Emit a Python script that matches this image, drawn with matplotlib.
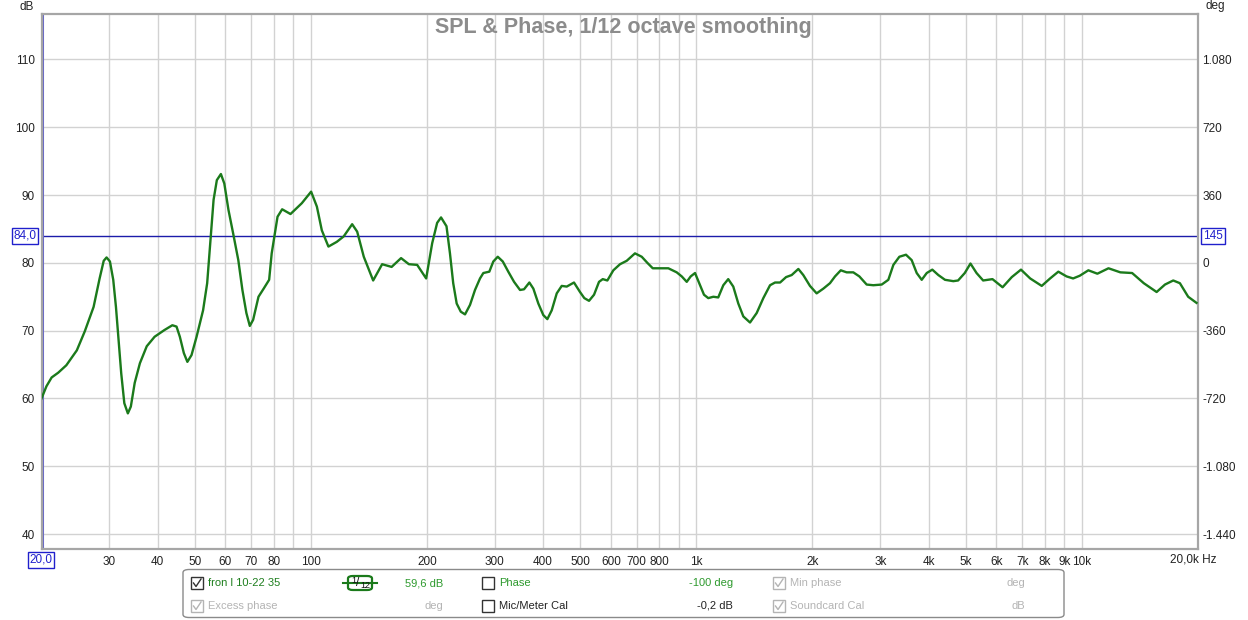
import matplotlib
matplotlib.use("Agg")
import matplotlib.pyplot as plt
from matplotlib.patches import Rectangle, FancyBboxPatch
from matplotlib.lines import Line2D
from matplotlib.ticker import FixedLocator, FuncFormatter, NullLocator

plt.rcParams['font.family'] = ['Liberation Sans', 'DejaVu Sans']

# SPL curve (Hz, dB)
freq = [20.0, 20.6, 21.25, 22.1, 23.2, 24.7, 25.9, 27.3, 28.3, 29.0, 29.5, 30.1, 30.7, 31.2,
        31.7, 32.2, 32.8, 33.5, 34.1, 34.9, 36.0, 37.5, 39.3, 41.7, 43.7, 44.8, 45.7, 46.8,
        47.8, 49.0, 50.5, 52.5, 53.8, 54.9, 55.9, 57.0, 58.4, 59.6, 61.1, 62.8, 64.8, 66.4,
        68.0, 69.4, 70.8, 73.1, 75.4, 77.9, 79.1, 81.9, 84.2, 88.5, 94.7, 100.1, 103.6,
        106.7, 111, 116.7, 121.6, 127.9, 131.8, 137.1, 145, 153, 161.9, 171.3, 179.5, 188.6,
        199, 206.3, 212.5, 217.5, 224.7, 229.4, 233.9, 238.8, 244.7, 251.0, 258.6, 266.4,
        274.5, 280.0, 290.2, 297.2, 305.2, 314.5, 325.0, 336.4, 348.6, 357.0, 368.6, 377.5,
        388.9, 400.6, 410.4, 421.3, 434.1, 447.2, 460.8, 481.2, 498.8, 511.8, 526.4, 542.4,
        558.8, 571.4, 587.3, 608.7, 633.5, 659.2, 692.7, 721.2, 745.8, 770.3, 804.4, 845.4,
        888.8, 915.9, 943.6, 966.2, 991.5, 1017, 1046, 1073, 1106, 1139, 1174, 1209, 1246,
        1284, 1323, 1377, 1433, 1491, 1552, 1599, 1648, 1708, 1766, 1838, 1893, 1970, 2050,
        2134, 2220, 2288, 2368, 2453, 2552, 2646, 2764, 2876, 3024, 3146, 3242, 3360, 3496,
        3617, 3727, 3840, 3957, 4091, 4241, 4413, 4638, 4772, 4966, 5138, 5328, 5542, 5860,
        6225, 6576, 6948, 7340, 7864, 8268, 8684, 9123, 9486, 9870, 10390, 10965, 11718,
        12578, 13495, 14467, 15620, 16420, 17250, 17950, 18860, 19820]
spl = [60.0, 61.8, 63.1, 63.8, 64.9, 67.1, 69.9, 73.5, 77.7, 80.3, 80.8, 80.2, 77.5, 73.5,
       68.6, 63.7, 59.3, 57.8, 58.8, 62.3, 65.2, 67.7, 69.1, 70.1, 70.8, 70.6, 69.1, 66.7,
       65.4, 66.4, 69.1, 73.0, 77.0, 83.6, 89.3, 92.2, 93.1, 91.7, 87.8, 84.4, 80.4, 76.0,
       72.6, 70.7, 71.6, 75.0, 76.2, 77.5, 81.4, 86.8, 87.9, 87.2, 88.8, 90.5, 88.3,
       84.8, 82.4, 83.1, 83.9, 85.7, 84.6, 80.9, 77.4, 79.8, 79.4, 80.7, 79.8, 79.7,
       77.7, 82.9, 85.9, 86.7, 85.4, 81.4, 77.0, 74.0, 72.8, 72.4, 73.8, 76.0,
       77.7, 78.5, 78.7, 80.2, 80.9, 80.2, 78.7, 77.2, 76.0, 76.1, 77.1, 76.2,
       74.0, 72.3, 71.7, 73.0, 75.5, 76.6, 76.5, 77.1, 75.7, 74.8, 74.4, 75.3,
       77.2, 77.6, 77.4, 78.9, 79.8, 80.3, 81.4, 80.9, 80.0, 79.2, 79.2, 79.2,
       78.6, 78.0, 77.2, 78.0, 78.5, 77.0, 75.3, 74.8, 75.0, 74.9, 76.7, 77.6, 76.5,
       74.0, 72.1, 71.2, 72.6, 74.8, 76.7, 77.1, 77.1, 77.9, 78.2, 79.1, 78.2, 76.6, 75.5,
       76.2, 77.0, 78.0, 78.9, 78.6, 78.6, 78.0, 76.8, 76.7, 76.8, 77.5, 79.7, 80.9, 81.2,
       80.4, 78.5, 77.5, 78.5, 79.0, 78.2, 77.5, 77.3, 77.4, 78.5, 79.9, 78.5, 77.4, 77.6,
       76.4, 77.9, 79.0, 77.7, 76.6, 77.7, 78.7, 78.0, 77.7, 78.1, 78.9, 78.4, 79.2,
       78.6, 78.5, 77.0, 75.7, 76.8, 77.4, 77.0, 75.0, 74.1]

x_ticks = [30, 40, 50, 60, 70, 80, 100, 200, 300, 400, 500, 600, 700, 800, 1000,
           2000, 3000, 4000, 5000, 6000, 7000, 8000, 9000, 10000]
x_labels = ["30", "40", "50", "60", "70", "80", "100", "200", "300", "400", "500", "600",
            "700", "800", "1k", "2k", "3k", "4k", "5k", "6k", "7k", "8k", "9k", "10k"]
x_grid = [20, 30, 40, 50, 60, 70, 80, 90, 100, 200, 300, 400, 500, 600, 700, 800, 900,
          1000, 2000, 3000, 4000, 5000, 6000, 7000, 8000, 9000, 10000, 20000]
db_ticks = [40, 50, 60, 70, 80, 90, 100, 110]
deg_ticks = [-1440, -1080, -720, -360, 0, 360, 720, 1080]

cursor_db = 84.0
cursor_hz = 20.0

W, H = 1248, 620
fig = plt.figure(figsize=(W / 100, H / 100), dpi=100)
ax = fig.add_axes([41.5 / W, 1 - 549 / H, (1198 - 41.5) / W, (549 - 14) / H])


def fx(x):
    return x / W


def fy(y):
    return 1 - y / H


ax.set_xscale("log")
ax.set_xlim(20, 20000)
ax.set_ylim(37.8, 116.7)

for g in x_grid:
    ax.axvline(g, color="#d2d2d2", lw=1.0, zorder=0)
for t in db_ticks:
    ax.axhline(t, color="#d2d2d2", lw=1.0, zorder=0)

ax.plot(freq, spl, color="#1b7a1b", lw=1.7, solid_joinstyle="round", zorder=3)

# cursors
ax.axhline(cursor_db, color="#1c1caa", lw=1.0, zorder=2)
ax.axvline(cursor_hz, color="#6464c8", lw=2.2, zorder=2)

ax.xaxis.set_major_locator(FixedLocator(x_ticks))
ax.xaxis.set_minor_locator(NullLocator())
ax.set_xticklabels(x_labels)
ax.yaxis.set_major_locator(FixedLocator(db_ticks))
ax.tick_params(axis="both", length=0, labelsize=8.5, colors="#222222")
ax.tick_params(axis="x", pad=5)
ax.tick_params(axis="y", pad=5)

for s in ax.spines.values():
    s.set_color("#a6a6a6")
    s.set_linewidth(1.6)

sec = ax.secondary_yaxis("right", functions=(lambda d: (d - 80) * 36, lambda p: p / 36 + 80))
sec.yaxis.set_major_locator(FixedLocator(deg_ticks))
sec.yaxis.set_major_formatter(FuncFormatter(lambda v, p: "{:,.0f}".format(v).replace(",", ".")))
sec.tick_params(length=0, labelsize=8.5, colors="#222222", pad=3)
sec.spines["right"].set_visible(False)

fig.text(fx(623), fy(27), "SPL & Phase, 1/12 octave smoothing", ha="center", va="center",
         fontsize=15.5, fontweight="bold", color="#8c8c8c")
fig.text(fx(27), fy(7), "dB", ha="center", va="center", fontsize=8.5, color="#222222")
fig.text(fx(1215), fy(6), "deg", ha="center", va="center", fontsize=8.5, color="#222222")
fig.text(fx(1193), fy(560), "20,0k Hz", ha="center", va="center", fontsize=8.5, color="#222222")

box = dict(boxstyle="square,pad=0.15", fc="white", ec="#2020cc", lw=1.0)
fig.text(fx(25), fy(236), "84,0", ha="center", va="center", fontsize=8.5, color="#2020cc", bbox=box)
fig.text(fx(1213), fy(236), "145", ha="center", va="center", fontsize=8.5, color="#2020cc", bbox=box)
fig.text(fx(41), fy(560), "20,0", ha="center", va="center", fontsize=8.5, color="#2020cc", bbox=box)

# legend panel
fig.add_artist(FancyBboxPatch((fx(183), fy(617.5)), fx(1064 - 183), (617.5 - 569.5) / H,
                              boxstyle="round,pad=0,rounding_size=0.005",
                              fc="white", ec="#8a8a8a", lw=1.0, transform=fig.transFigure))


def checkbox(x, y, checked, color):
    fig.add_artist(Rectangle((fx(x), fy(y + 6)), 12 / W, 12 / H, fc="white", ec=color, lw=1.0,
                             transform=fig.transFigure))
    if checked:
        fig.add_artist(Line2D([fx(x + 2.5), fx(x + 5), fx(x + 10)], [fy(y), fy(y + 3.5), fy(y - 4)],
                              color=color, lw=1.0, transform=fig.transFigure))


green = "#2e9a2e"
light = "#b4b4b4"
dark = "#222222"
r1, r2 = 583, 606

checkbox(191, r1, True, "#333333")
fig.text(fx(208), fy(r1), "fron l 10-22 35", ha="left", va="center", fontsize=8, color="#1e7e1e")
fig.add_artist(Line2D([fx(343), fx(377)], [fy(r1), fy(r1)], color="#1b7a1b", lw=1.5,
                      transform=fig.transFigure))
fig.add_artist(FancyBboxPatch((fx(348), fy(590)), 24 / W, 14 / H,
                              boxstyle="round,pad=0,rounding_size=0.004",
                              fc="white", ec="#1b7a1b", lw=1.6, transform=fig.transFigure))
fig.text(fx(354), fy(580.5), "1", ha="center", va="center", fontsize=6.5, color="#111111")
fig.text(fx(358), fy(583), "/", ha="center", va="center", fontsize=8.5, color="#111111")
fig.text(fx(365), fy(585.5), "12", ha="center", va="center", fontsize=6.5, color="#111111")
fig.text(fx(443), fy(r1), "59,6 dB", ha="right", va="center", fontsize=8, color=green)
checkbox(482, r1, False, "#333333")
fig.text(fx(499), fy(r1), "Phase", ha="left", va="center", fontsize=8, color=green)
fig.text(fx(733), fy(r1), "-100 deg", ha="right", va="center", fontsize=8, color=green)
checkbox(773, r1, True, light)
fig.text(fx(790), fy(r1), "Min phase", ha="left", va="center", fontsize=8, color=light)
fig.text(fx(1025), fy(r1), "deg", ha="right", va="center", fontsize=8, color=light)

checkbox(191, r2, True, light)
fig.text(fx(208), fy(r2), "Excess phase", ha="left", va="center", fontsize=8, color=light)
fig.text(fx(443), fy(r2), "deg", ha="right", va="center", fontsize=8, color=light)
checkbox(482, r2, False, "#333333")
fig.text(fx(499), fy(r2), "Mic/Meter Cal", ha="left", va="center", fontsize=8, color=dark)
fig.text(fx(733), fy(r2), "-0,2 dB", ha="right", va="center", fontsize=8, color=dark)
checkbox(773, r2, True, light)
fig.text(fx(790), fy(r2), "Soundcard Cal", ha="left", va="center", fontsize=8, color=light)
fig.text(fx(1025), fy(r2), "dB", ha="right", va="center", fontsize=8, color=light)

fig.savefig("out.png", dpi=100, facecolor="white")
